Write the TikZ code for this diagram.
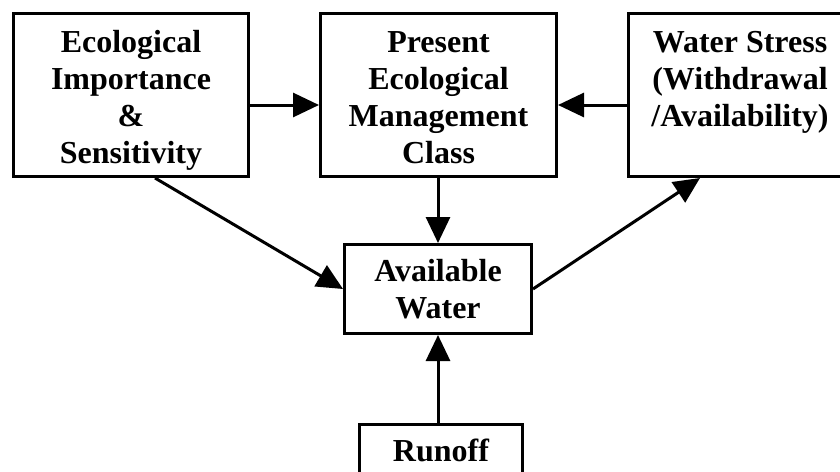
\documentclass[tikz,border=0pt]{standalone}
\usepackage{fontspec}
\setmainfont{Liberation Serif}
\usetikzlibrary{arrows.meta}
\newcommand{\topstrut}{\rule{0pt}{33pt}}
\newcommand{\botstrut}{\rule[-7pt]{0pt}{7pt}}
\begin{document}
\begin{tikzpicture}[x=1pt,y=-1pt,
    box/.style={draw=black,line width=3pt,fill=white,align=center,inner sep=0pt,
      font=\fontsize{32}{37}\selectfont\bfseries},
    arr/.style={line width=3pt,-{Triangle[length=26pt,width=24pt]}}]
      \useasboundingbox (0,0) rectangle (840,471);
      \clip (0,0) rectangle (840,471);
      \draw
        (131, 95) node[box,minimum width=235pt,minimum height=163pt] (eco)
          {\topstrut Ecological\\Importance\\\&\\Sensitivity}
        (438.5, 95) node[box,minimum width=236pt,minimum height=163pt] (pemc)
          {\topstrut Present\\Ecological\\Management\\Class\botstrut}
        (740, 95) node[box,minimum width=223pt,minimum height=163pt] (stress)
          {\topstrut Water Stress\\(Withdrawal\\/Availability)\\\botstrut}
        (438, 289) node[box,minimum width=187pt,minimum height=89pt] (avail)
          {Available\\Water}
        (441, 423) node[box,anchor=north,minimum width=163pt,inner ysep=14pt] (runoff)
          {Runoff};
      \begin{scope}[arr]
        \draw ([yshift=-10pt]eco.east) to ([yshift=-10pt]pemc.west);
        \draw ([yshift=-10pt]stress.west) to ([yshift=-10pt]pemc.east);
        \draw (pemc.south -| avail.north) to (avail.north);
        \draw ([xshift=24pt]eco.south) to (avail.west);
        \draw (avail.east) to ([xshift=-40pt]stress.south);
        \draw (runoff.north -| avail.south) to (avail.south);
      \end{scope}
    \end{tikzpicture}
\end{document}
